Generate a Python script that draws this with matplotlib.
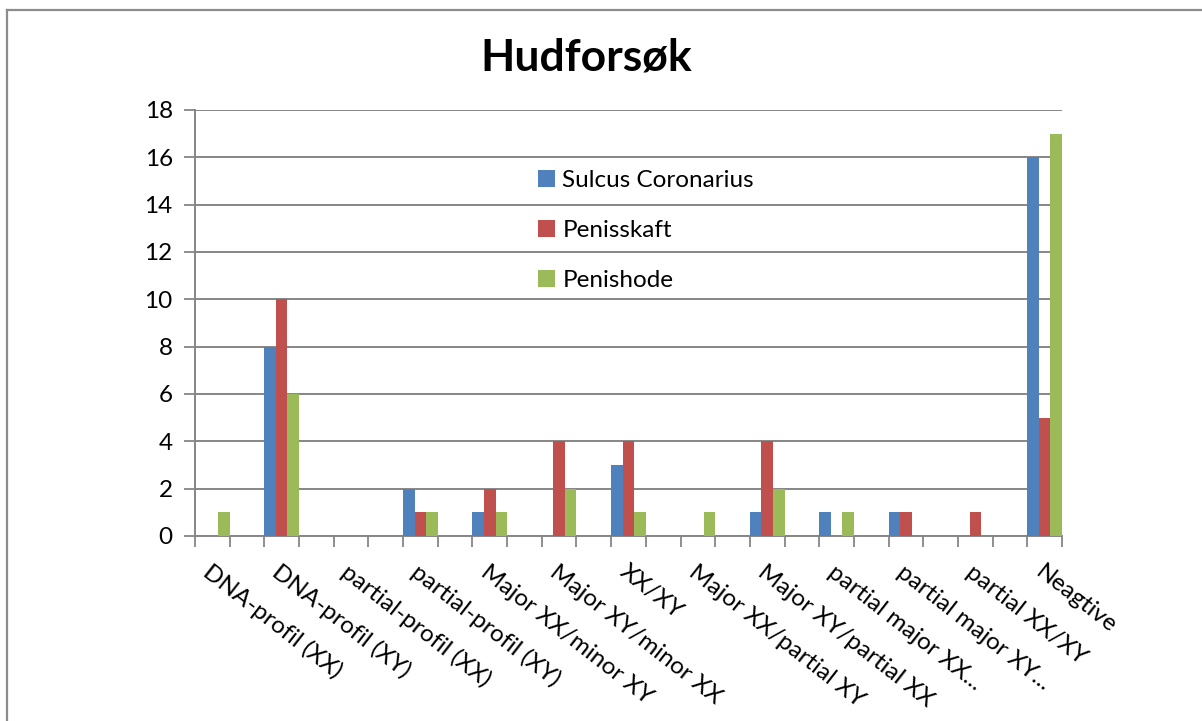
import matplotlib
matplotlib.use("Agg")
import matplotlib.pyplot as plt
import matplotlib.transforms as mtransforms
from matplotlib.lines import Line2D
from matplotlib.patches import Patch
import numpy as np

plt.rcParams['font.family'] = ['Lato', 'DejaVu Sans']

title = "Hudforsøk"
categories = ["DNA-profil (XX)", "DNA-profil (XY)", "partial-profil (XX)",
              "partial-profil (XY)", "Major XX/minor XY", "Major XY/minor XX",
              "XX/XY", "Major XX/partial XY", "Major XY/partial XX",
              "partial major XX...", "partial major XY...", "partial XX/XY",
              "Neagtive"]
series_names = ["Sulcus Coronarius", "Penisskaft", "Penishode"]
sulcus = [0, 8, 0, 2, 1, 0, 3, 0, 1, 1, 1, 0, 16]
penisskaft = [0, 10, 0, 1, 2, 4, 4, 0, 4, 0, 1, 1, 5]
penishode = [1, 6, 0, 1, 1, 2, 1, 1, 2, 1, 0, 0, 17]
y_ticks = [0, 2, 4, 6, 8, 10, 12, 14, 16, 18]

colors = ["#4F81BD", "#C0504D", "#9BBB59"]
grid_c = "#868686"
W, H = 1202, 721

fig = plt.figure(figsize=(W / 100, H / 100), dpi=100)
ax = fig.add_axes([195 / W, 1 - 536 / H, (1062 - 195) / W, (536 - 110) / H])

# excel kept an empty slot between every labelled category
x = 2 * np.arange(len(categories))
bw = 1 / 3
for i, (vals, name) in enumerate(zip([sulcus, penisskaft, penishode], series_names)):
    ax.bar(x + (i - 1) * bw, vals, width=bw, color=colors[i], label=name, zorder=3)

ax.set_xlim(-0.5, 2 * len(categories) - 1.5)
ax.set_ylim(0, 18)
ax.set_yticks(y_ticks)
ax.yaxis.grid(True, color=grid_c, lw=1.4, zorder=0)
ax.tick_params(axis="y", length=8, width=1.3, color=grid_c, labelsize=17.5, pad=8)

ax.set_xticks(x)
ax.set_xticklabels(categories, rotation=-38, ha="left", va="top",
                   rotation_mode="anchor", fontsize=17.5)
ax.set_xticks(np.arange(-0.5, 2 * len(categories) - 1, 1), minor=True)
ax.tick_params(axis="x", which="major", length=0, pad=18)
ax.tick_params(axis="x", which="minor", length=8, width=1.3, color=grid_c)
offset = mtransforms.ScaledTranslation(0, 0, fig.dpi_scale_trans)
for lab in ax.get_xticklabels():
    lab.set_transform(lab.get_transform() + offset)

for s in ["top", "right"]:
    ax.spines[s].set_visible(False)
for s in ["left", "bottom"]:
    ax.spines[s].set_color(grid_c)
    ax.spines[s].set_linewidth(1.4)

handles = [Patch(facecolor=c, edgecolor="none") for c in colors]
ax.legend(handles, series_names, loc="upper left",
          bbox_to_anchor=(538 / W, 1 - 170 / H), bbox_transform=fig.transFigure,
          frameon=False, fontsize=17.5, handlelength=0.7, handleheight=0.7,
          handletextpad=0.3, labelspacing=1.2, borderpad=0, borderaxespad=0)

fig.text(586 / W, 1 - 71 / H, title, ha="center", va="baseline",
         fontsize=32, fontweight="bold")

# chart area border (only top and left edges fall inside the picture)
fig.add_artist(Line2D([7 / W, 1.01], [1 - 10 / H, 1 - 10 / H], color="#8C8C8C", lw=1.6))
fig.add_artist(Line2D([7 / W, 7 / W], [1 - 10 / H, -0.01], color="#8C8C8C", lw=1.6))

fig.savefig("out.png", dpi=100)
